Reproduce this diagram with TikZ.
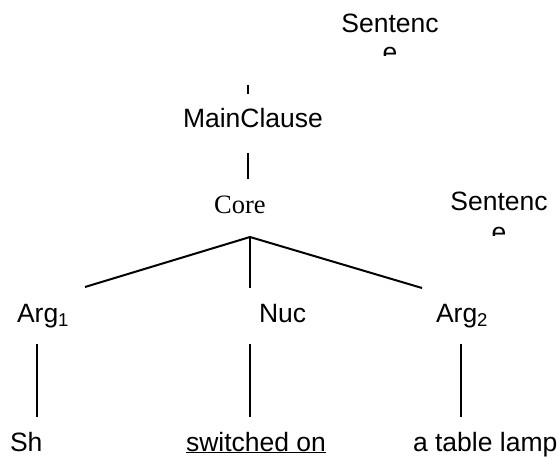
\documentclass[tikz,border=0pt]{standalone}
\usepackage{fontspec}
\setmainfont{Liberation Sans}
\newfontfamily\coreserif{Liberation Serif}
\begin{document}
\begin{tikzpicture}[x=1pt,y=-1pt,
  every node/.style={inner sep=0pt, outer sep=0pt, font=\fontsize{26.5}{30}\selectfont},
  label/.style={anchor=base west},
  centred/.style={anchor=base},
  branch/.style={line width=2pt}]
\useasboundingbox (0,0) rectangle (559,457);

% clipped "Sentence" labels (the last letter is cut off by its box)
\node[centred] (sentA) at (390,33) {Sentenc};
\begin{scope}
  \clip (330,40) rectangle (450,56);
  \node[centred] (sentAe) at (390,62) {e};
\end{scope}
\node[centred] (sentB) at (499,210) {Sentenc};
\begin{scope}
  \clip (440,218) rectangle (559,235);
  \node[centred] (sentBe) at (499,241) {e};
\end{scope}

% tree nodes
\node[centred] (main) at (253,128) {MainClause};
\node[centred, font=\coreserif\fontsize{26.5}{30}\selectfont] (core) at (240,213) {Core};
\node[label] (arg1) at (17,322) {Arg\textsubscript{1}};
\node[label] (nuc) at (259,322) {Nuc};
\node[label] (arg2) at (436,322) {Arg\textsubscript{2}};
\node[label] (sh) at (10,451) {Sh};
\node[label] (verb) at (186,451) {\underline{switched on}};
\node[label] (lamp) at (413,451) {a table lamp};

% connector end points
\coordinate (stubT) at (248,85);
\coordinate (stubB) at (248,94);
\coordinate (mainB) at (248,153);
\coordinate (coreT) at (248,179);
\coordinate (apex) at (250,237);
\coordinate (arg1T) at (85,287);
\coordinate (nucT) at (250,288);
\coordinate (arg2T) at (422,288);
\coordinate (arg1B) at (37,344);
\coordinate (shT) at (37,417);
\coordinate (nucB) at (250,344);
\coordinate (verbT) at (250,417);
\coordinate (arg2B) at (461,344);
\coordinate (lampT) at (461,417);

\draw[branch] (stubT) -- (stubB);
\draw[branch] (mainB) -- (coreT);
\draw[branch] (apex) -- (arg1T);
\draw[branch] (apex) -- (nucT);
\draw[branch] (apex) -- (arg2T);
\draw[branch] (arg1B) -- (shT);
\draw[branch] (nucB) -- (verbT);
\draw[branch] (arg2B) -- (lampT);
\end{tikzpicture}
\end{document}
